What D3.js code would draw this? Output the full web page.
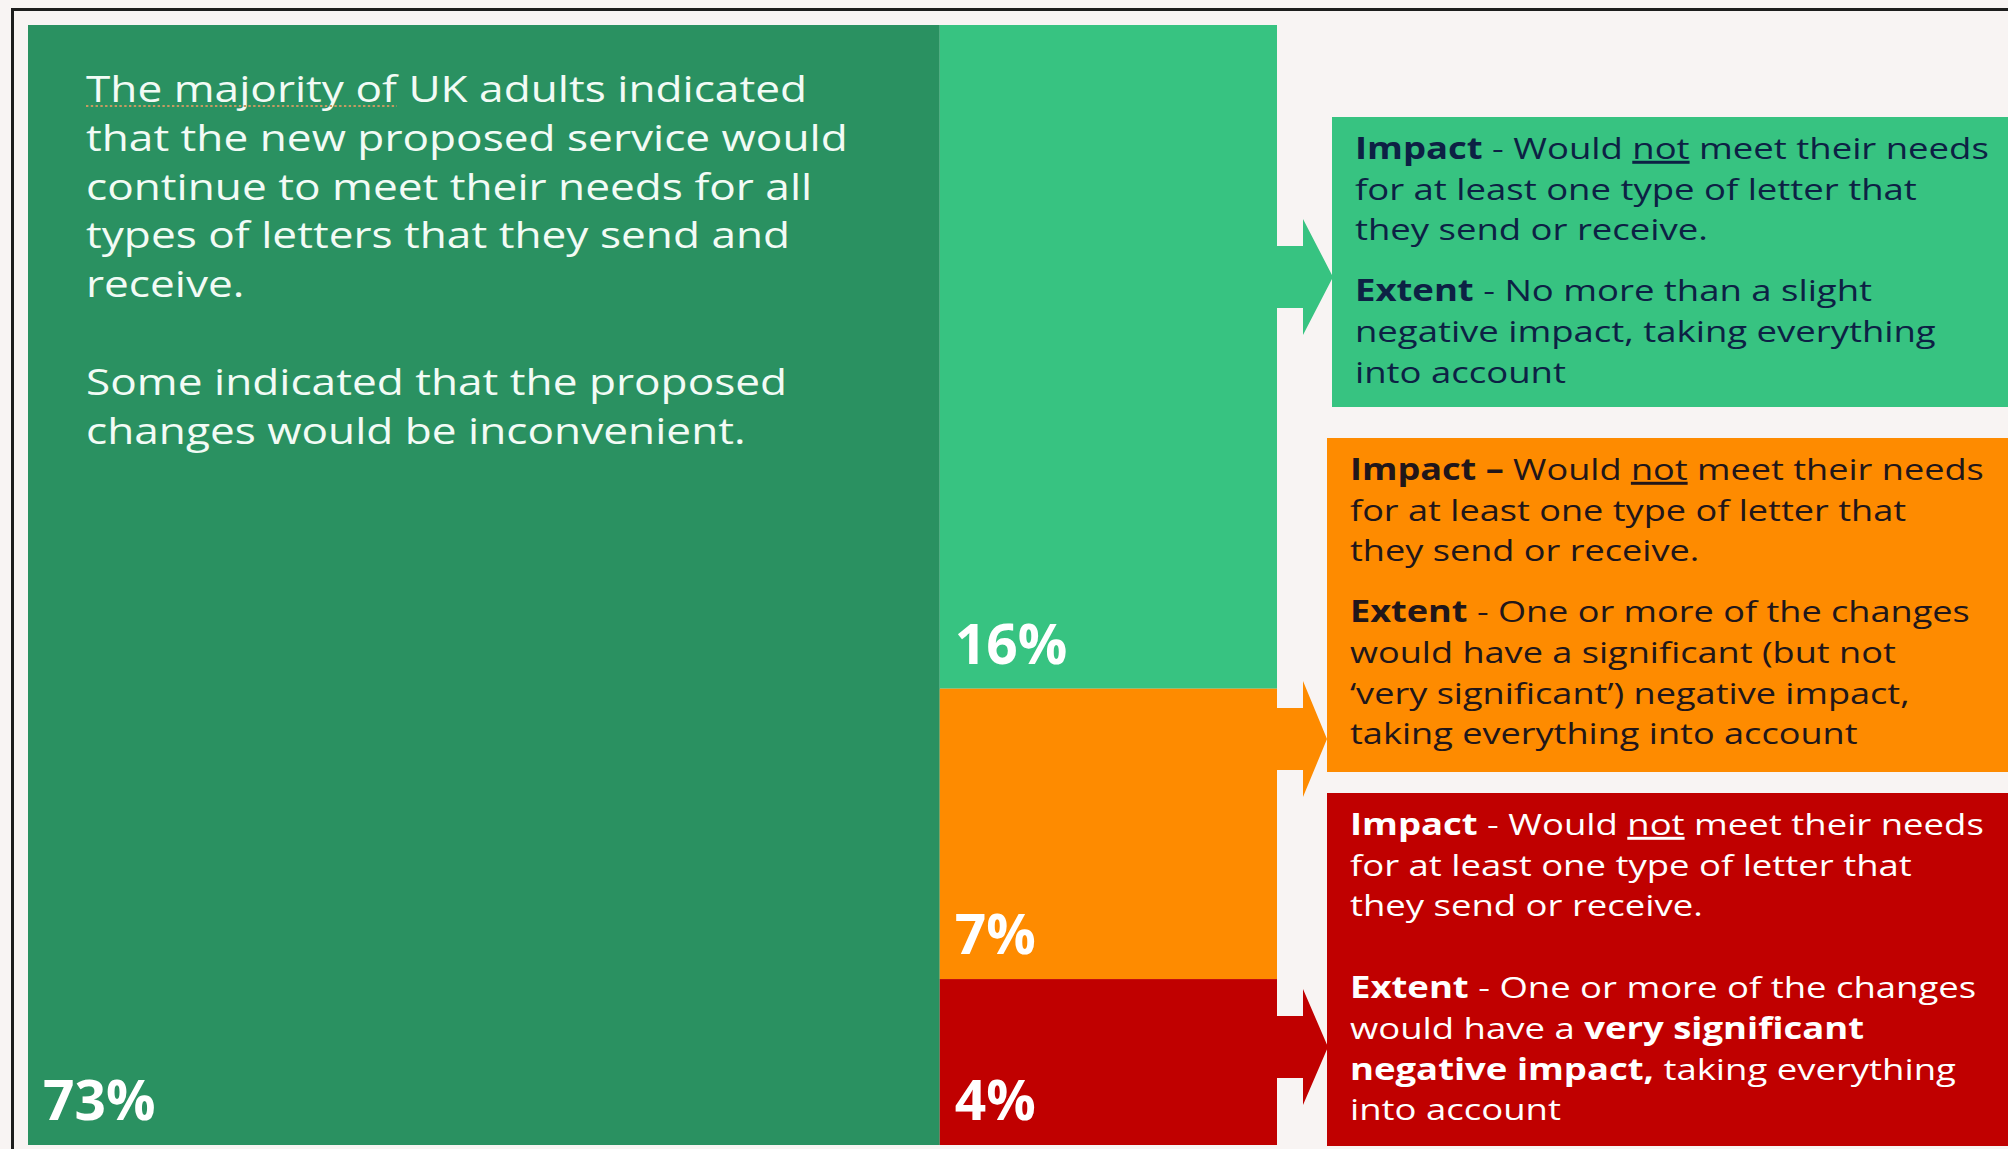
<!DOCTYPE html>
<html>
<head>
<meta charset="utf-8">
<script src="https://cdn.jsdelivr.net/npm/d3@7/dist/d3.min.js"></script>
<style>
  html, body { margin: 0; padding: 0; background: #f8f4f3; }
  svg { display: block; }
</style>
</head>
<body>
<svg id="chart" width="2008" height="1149"></svg>
<script>
// Share of UK adults by whether the proposed postal service would meet their needs
const segmentNames  = ["Needs met", "Slight negative impact", "Significant negative impact", "Very significant negative impact"];
const segmentValues = [73, 16, 7, 4];
const segmentColumn = [0, 1, 1, 1];          // 0 = meets needs, 1 = does not meet needs
const segmentLabels = ["73%", "16%", "7%", "4%"];

// Summary text in the large column
const summaryLines = [
  "The majority of UK adults indicated",
  "that the new proposed service would",
  "continue to meet their needs for all",
  "types of letters that they send and",
  "receive.",
  "",
  "Some indicated that the proposed",
  "changes would be inconvenient."
];

// Callout text for each "does not meet needs" segment; each line is a list of [text, style] runs
const calloutGreen = [
  [["Impact", "b"], [" - Would ", ""], ["not", "u"], [" meet their needs", ""]],
  [["for at least one type of letter that", ""]],
  [["they send or receive.", ""]],
  null,
  [["Extent", "b"], [" - No more than a slight", ""]],
  [["negative impact, taking everything", ""]],
  [["into account", ""]]
];
const calloutOrange = [
  [["Impact \u2013", "b"], [" Would ", ""], ["not", "u"], [" meet their needs", ""]],
  [["for at least one type of letter that", ""]],
  [["they send or receive.", ""]],
  null,
  [["Extent", "b"], [" - One or more of the changes", ""]],
  [["would have a significant (but not", ""]],
  [["\u2018very significant\u2019) negative impact,", ""]],
  [["taking everything into account", ""]]
];
const calloutRed = [
  [["Impact", "b"], [" - Would ", ""], ["not", "u"], [" meet their needs", ""]],
  [["for at least one type of letter that", ""]],
  [["they send or receive.", ""]],
  null,
  [["Extent", "b"], [" - One or more of the changes", ""]],
  [["would have a ", ""], ["very significant", "b"]],
  [["negative impact,", "b"], [" taking everything", ""]],
  [["into account", ""]]
];

// ---- styling & layout ----
const FONT = "'Open Sans', 'DejaVu Sans', sans-serif";
const colors = ["#2a9161", "#37c381", "#fe8b00", "#c00000"];
const calloutText = ["#0d2144", "#21161a", "#ffffff"];
const plot = { left: 28, right: 1277, top: 25, bottom: 1145 };
const summaryWidth = 721;   // width of the opening summary line
const calloutWidth = 634;   // width of each callout's opening line

// callout boxes, keyed to segments 1..3
const callouts = [
  { seg: 1, lines: calloutGreen,  box: [1332, 117, 407], arrowY: 277, tip: 1332, paraGap: 61 },
  { seg: 2, lines: calloutOrange, box: [1327, 438, 772], arrowY: 739, tip: 1326, paraGap: 61 },
  { seg: 3, lines: calloutRed,    box: [1327, 793, 1146], arrowY: 1047, tip: 1327, paraGap: 82 }
];

const svg = d3.select("#chart");

// widen a text block (wide face) so its first line reaches the given width
function fitWidth(groupSel, firstRow, x0, target) {
  const natural = firstRow.node().getComputedTextLength();
  const sx = target / natural;
  groupSel.attr("transform", `translate(${x0},0) scale(${sx},1) translate(${-x0},0)`);
}

// outer frame
svg.append("rect")
  .attr("x", 12.5).attr("y", 9.5)
  .attr("width", 2100).attr("height", 1200)
  .attr("fill", "none").attr("stroke", "#1d1d1d").attr("stroke-width", 3);

// ---- mosaic geometry from the values ----
const columnTotals = d3.rollups(segmentValues.map((v, i) => ({ v, c: segmentColumn[i] })),
  g => d3.sum(g, d => d.v), d => d.c).sort((a, b) => a[0] - b[0]).map(d => d[1]);
const grand = d3.sum(columnTotals);
const x = d3.scaleLinear().domain([0, grand]).range([plot.left, plot.right]);
const colStart = d3.cumsum([0, ...columnTotals]);
const yScales = columnTotals.map(t => d3.scaleLinear().domain([0, t]).range([plot.top, plot.bottom]));

const offsets = columnTotals.map(() => 0);
const segments = segmentValues.map((v, i) => {
  const c = segmentColumn[i];
  const y0 = offsets[c];
  offsets[c] += v;
  return {
    name: segmentNames[i], value: v, label: segmentLabels[i], color: colors[i],
    x0: x(colStart[c]), x1: x(colStart[c] + columnTotals[c]),
    y0: yScales[c](y0), y1: yScales[c](y0 + v)
  };
});

svg.append("g").selectAll("rect")
  .data(segments)
  .join("rect")
  .attr("x", d => d.x0)
  .attr("y", d => d.y0)
  .attr("width", d => d.x1 - d.x0)
  .attr("height", d => d.y1 - d.y0)
  .attr("fill", d => d.color);

// percentage labels, bottom-left of each segment
svg.append("g").selectAll("text")
  .data(segments)
  .join("text")
  .attr("x", d => d.x0 + 15)
  .attr("y", d => d.y1 - 25)
  .attr("fill", "#ffffff")
  .attr("font-family", FONT)
  .attr("font-weight", 700)
  .attr("font-size", 55)
  .text(d => d.label);

// summary text
const summaryG = svg.append("g");
const summary = summaryG.append("text")
  .attr("font-family", FONT)
  .attr("font-size", 37)
  .attr("fill", "#f2fbf5");
summaryLines.forEach((ln, i) => {
  summary.append("tspan")
    .attr("x", 86)
    .attr("y", 102 + i * 48.8)
    .text(ln);
});
// dotted proofing underline under the opening words
{
  const first = summary.select("tspan").node();
  const w = first.getSubStringLength(0, "The majority of".length);
  summaryG.append("line")
    .attr("x1", 86).attr("x2", 86 + w)
    .attr("y1", 106).attr("y2", 106)
    .attr("stroke", "#c79a62").attr("stroke-width", 2)
    .attr("stroke-dasharray", "2,2");
}
fitWidth(summaryG, summary.select("tspan"), 86, summaryWidth);

// ---- callouts: arrows and boxes ----
const shaftHalf = 31, headHalf = 58, shaftEnd = 1303;
callouts.forEach((c, k) => {
  const seg = segments[c.seg];
  const [bx, by0, by1] = c.box;
  const g = svg.append("g");

  // arrow from the segment edge to the box
  const ay = c.arrowY;
  const path = d3.path();
  path.moveTo(seg.x1 - 1, ay - shaftHalf);
  path.lineTo(shaftEnd, ay - shaftHalf);
  path.lineTo(shaftEnd, ay - headHalf);
  path.lineTo(c.tip + 1, ay);
  path.lineTo(shaftEnd, ay + headHalf);
  path.lineTo(shaftEnd, ay + shaftHalf);
  path.lineTo(seg.x1 - 1, ay + shaftHalf);
  path.closePath();
  g.append("path").attr("d", path.toString()).attr("fill", seg.color);

  g.append("rect")
    .attr("x", bx).attr("y", by0)
    .attr("width", 2008 - bx + 10).attr("height", by1 - by0)
    .attr("fill", seg.color);

  const tx = bx + 23;
  const tg = g.append("g");
  const t = tg.append("text")
    .attr("font-family", FONT)
    .attr("font-size", 30)
    .attr("fill", calloutText[k]);
  let yy = by0 + 42, started = false, firstRow = null;
  c.lines.forEach(line => {
    if (line === null) { yy += c.paraGap - 40.7; return; }
    if (started) yy += 40.7;
    started = true;
    const row = t.append("tspan").attr("x", tx).attr("y", yy);
    if (!firstRow) firstRow = row;
    line.forEach(([txt, st]) => {
      const s = row.append("tspan").text(txt);
      if (st === "b") s.attr("font-weight", 700);
      if (st === "u") s.attr("text-decoration", "underline");
    });
  });
  fitWidth(tg, firstRow, tx, calloutWidth);
});
</script>
</body>
</html>
